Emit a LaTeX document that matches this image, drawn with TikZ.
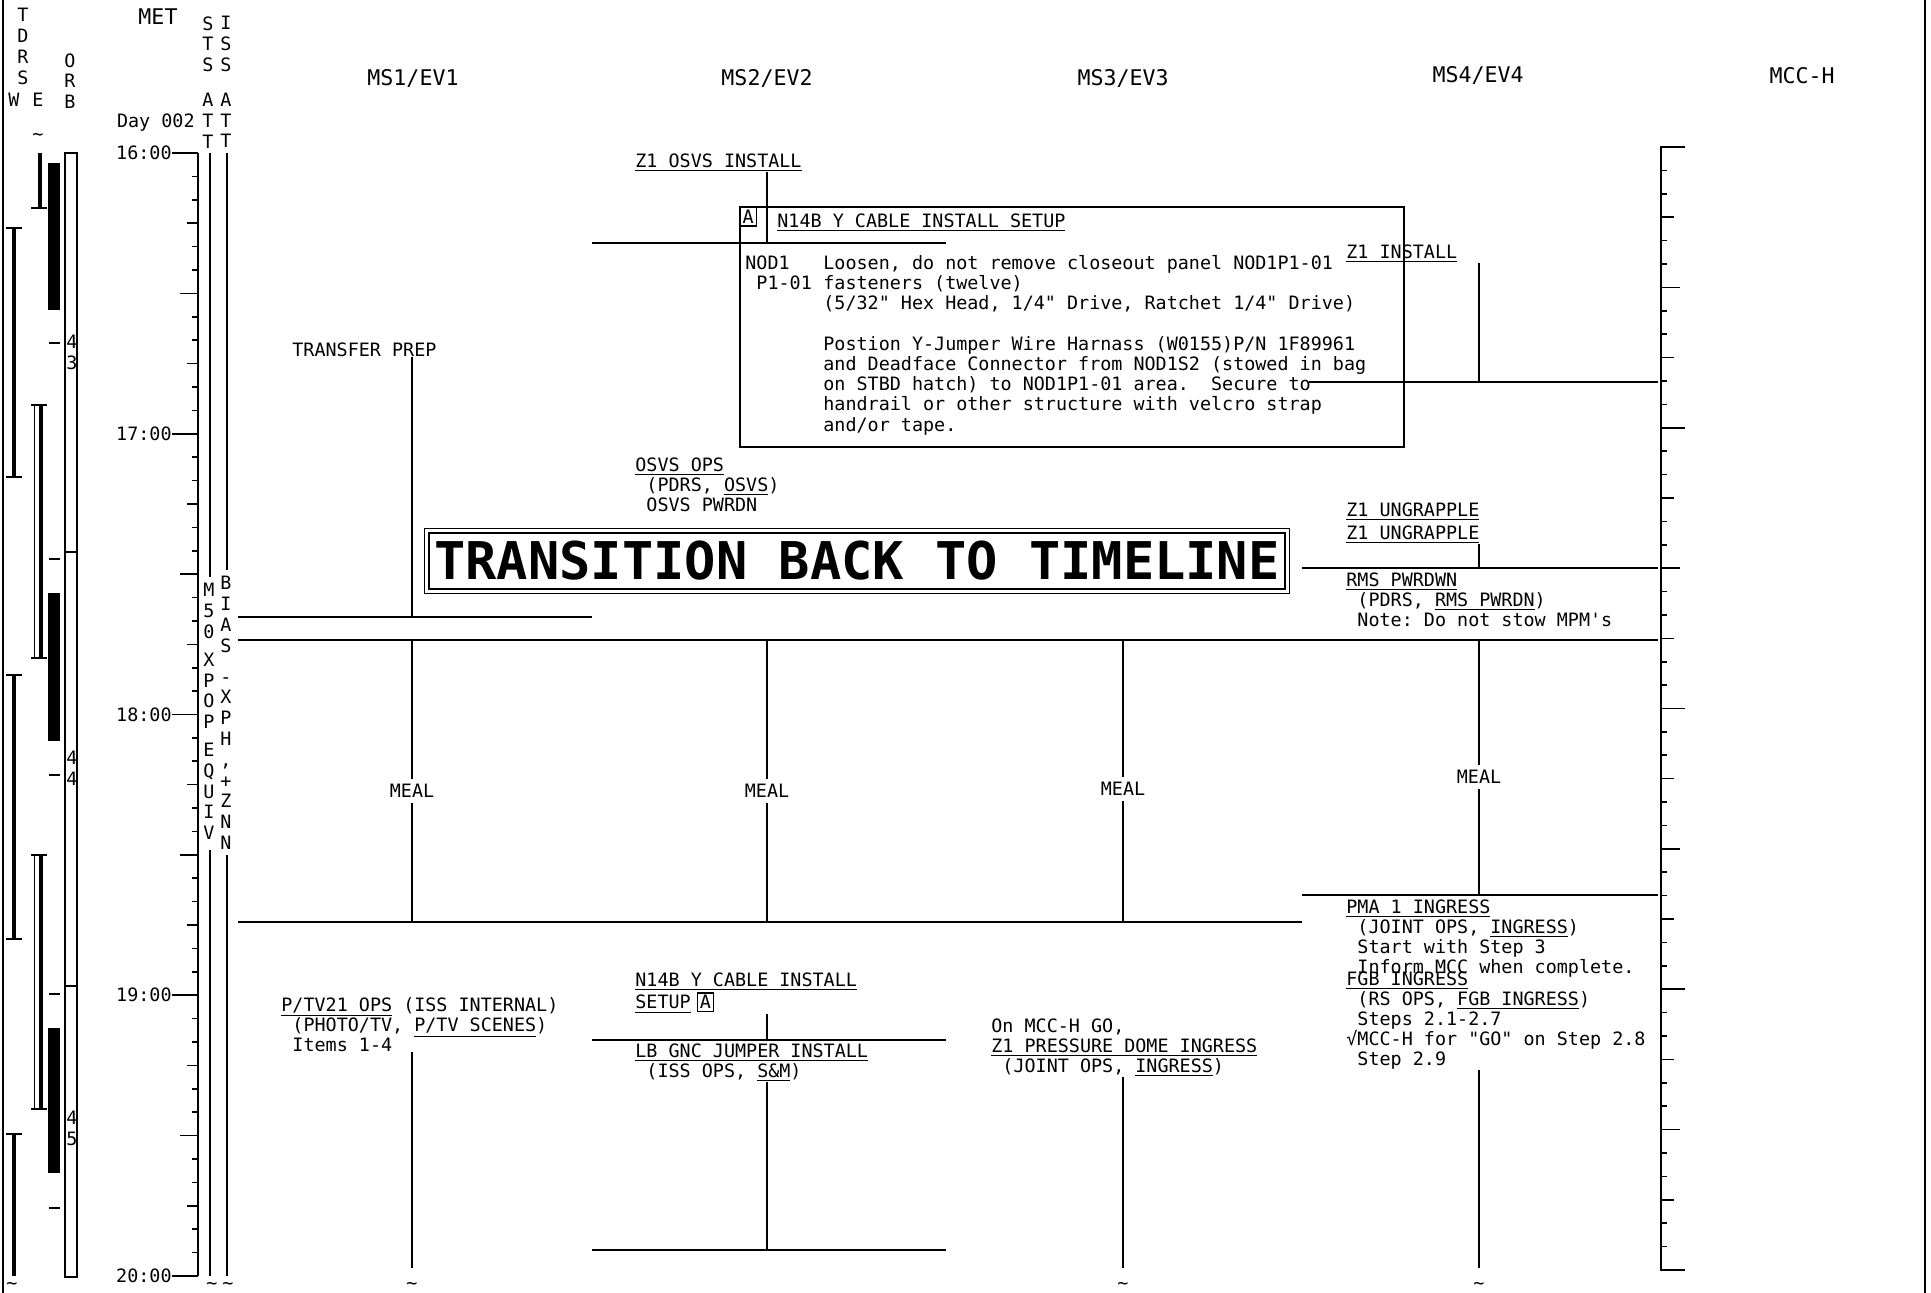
\documentclass[tikz,border=0pt]{standalone}
\usepackage{fontspec}
\setmonofont{DejaVu Sans Mono}
\usetikzlibrary{positioning}
\newcommand\tlfont{\ttfamily\fontsize{9.2}{10.1}\selectfont}
\newcommand\chind{\phantom{x}}
\setlength\fboxsep{1pt}
\setlength\fboxrule{0.6pt}

\tikzset{
  txt/.style={anchor=north west,inner sep=0pt,align=left,font=\tlfont},
  crew/.style={inner sep=0pt,font=\ttfamily\fontsize{10.8}{12}\selectfont},
  vlet/.style={anchor=north,inner sep=0pt,align=center,font=\ttfamily\fontsize{9.2}{10.4}\selectfont},
  meal/.style={inner sep=2.5pt,font=\tlfont},
  til/.style={inner sep=0pt,font=\tlfont},
  tline/.style={line width=1pt},
  tick/.style={line width=0.8pt},
  bar/.style={line width=2pt},
}

\begin{document}
\begin{tikzpicture}[x=0.5pt,y=-0.5pt]
\useasboundingbox (0,0) rectangle (1931,1293);

% page edges
\draw[line width=0.6pt] (3,0) -- (3,1293);
\draw[line width=0.6pt] (1925,0) -- (1925,1293);

% TDRS and ORB strip
\node[vlet] (tdrs) at (23,8) {T\\D\\R\\S};
\node[vlet] (tdrsw) at (14,93) {W};
\node[vlet] (tdrse) at (38,93) {E};
\node[vlet] (orb) at (70,53) {O\\R\\B};
\node[til] (etil) at (38,137) {\textasciitilde};
\foreach \a/\b in {228/477,675/939}{
  \draw[bar] (14,\a) -- (14,\b);
  \draw[tick] (6,\a) -- (22,\a) (6,\b) -- (22,\b);
}
\draw[bar] (14,1134) -- (14,1276);
\draw[tick] (6,1134) -- (22,1134);
\node[til] (wtil) at (12,1286) {\textasciitilde};
\draw[bar] (40,153) -- (40,208);
\draw[tick] (31,208) -- (47,208);
\foreach \a/\b in {405/658,855/1109}{
  \draw[bar] (41,\a) -- (41,\b);
  \draw[line width=0.5pt] (34,\a) -- (34,\b);
  \draw[tick] (31,\a) -- (47,\a) (31,\b) -- (47,\b);
}
\foreach \a/\b in {163/310,593/741,1028/1173}
  \fill (48,\a) rectangle (60,\b);
\foreach \y in {343,559,775,994,1208}
  \draw[tick] (49,\y) -- (60,\y);
\draw[tick] (65,153) rectangle (77,1277);
\draw[tick] (65,552) -- (77,552) (65,986) -- (77,986);
\node[vlet] (rev43) at (72,335) {4\\3};
\node[vlet] (rev44) at (72,751) {4\\4};
\node[vlet] (rev45) at (72,1111) {4\\5};

% MET axis
\node[crew] (met) at (158,17) {MET};
\node[font=\tlfont,inner sep=0pt,anchor=east] (day) at (195,123) {Day 002};
\draw[tick] (198,153) -- (198,1276);
\foreach \i in {0,...,48} \draw[tick] (198,{153+\i*23.396}) -- ++(-6,0);
\foreach \i in {0,3,...,48} \draw[tick] (198,{153+\i*23.396}) -- ++(-11,0);
\foreach \i in {0,6,...,48} \draw[tick] (198,{153+\i*23.396}) -- ++(-18,0);
\foreach \h [count=\k from 0] in {16,...,20}{
  \node[font=\tlfont,inner sep=0pt,anchor=east] (met\h) at (172,{153+\k*280.75}) {\h:00};
  \draw[tick] (met\h.east) -- (198,{153+\k*280.75});
}

% attitude columns
\node[vlet] (stshd) at (208,16) {S\\T\\S\\[7pt]A\\T\\T};
\node[vlet] (isshd) at (226,16) {I\\S\\S\\[7pt]A\\T\\T};
\draw[tick] (210,153) -- (210,577) (210,850) -- (210,1276);
\draw[tick] (227,153) -- (227,570) (227,855) -- (227,1276);
\node[vlet] (stsatt) at (209,583) {M\\5\\0\\[3.5pt]X\\P\\O\\P\\[3.5pt]E\\Q\\U\\I\\V};
\node[vlet] (issatt) at (226,576) {B\\I\\A\\S\\[5pt]-\\X\\P\\H\\,\\+\\Z\\N\\N};
\node[til] (ststil) at (212,1286) {\textasciitilde};
\node[til] (isstil) at (228,1286) {\textasciitilde};

% crew headers
\node[crew] (ms1) at (413,78) {MS1/EV1};
\node[crew] (ms2) at (767,78) {MS2/EV2};
\node[crew] (ms3) at (1123,78) {MS3/EV3};
\node[crew] (ms4) at (1478,75) {MS4/EV4};
\node[crew] (mcch) at (1802,76) {MCC-H};

% MCC-H axis
\draw[tick] (1685,147) -- (1661,147) -- (1661,1270) -- (1685,1270);
\foreach \i in {1,...,47} \draw[tick] (1661,{147+\i*23.396}) -- ++(6,0);
\foreach \i in {3,6,...,45} \draw[tick] (1661,{147+\i*23.396}) -- ++(13,0);
\foreach \i in {6,12,...,42} \draw[tick] (1661,{147+\i*23.396}) -- ++(19,0);
\foreach \i in {12,24,36} \draw[tick] (1661,{147+\i*23.396}) -- ++(24,0);

\coordinate (c1) at (412,0);
\coordinate (c2) at (767,0);
\coordinate (c3) at (1123,0);
\coordinate (c4) at (1479,0);

% activity boundaries
\draw[tline] (238,617) -- (592,617);
\draw[tline] (238,640) -- (1658,640);
\draw[tline] (238,922) -- (1302,922);
\draw[tline] (592,243) -- (946,243);
\draw[tline] (592,1040) -- (946,1040);
\draw[tline] (592,1250) -- (946,1250);
\draw[tline] (1309,382) -- (1658,382);
\draw[tline] (1302,568) -- (1658,568);
\draw[tline] (1302,895) -- (1658,895);

% MS1
\node[txt] (tprep) at (292,342) {TRANSFER PREP};
\draw[tline] (tprep.south -| c1) -- (412,617);
\node[meal] (meal1) at (412,791) {MEAL};
\draw[tline] (412,640) -- (meal1) -- (412,922);
\node[txt] (ptv) at (281,997) {\underline{P/TV21 OPS} (ISS INTERNAL)\\\chind(PHOTO/TV, \underline{P/TV SCENES})\\\chind Items 1-4};
\draw[tline] (ptv.south -| c1) -- (412,1268);
\node[til] (til1) at (412,1286) {\textasciitilde};

% MS2
\node[txt] (z1osvs) at (635,153) {\underline{Z1 OSVS INSTALL}};
\node[draw,line width=0.8pt,anchor=north west,minimum width=332pt,minimum height=120pt,inner sep=0pt] (setup) at (739,206) {};
\node[draw,line width=0.6pt,inner sep=1.5pt,font=\tlfont,anchor=north west] (setupA) at (setup.north west) {A};
\draw[tline] (z1osvs.south -| c2) -- (767,243);
\node[txt] (setuptitle) at (777,213) {\underline{N14B Y CABLE INSTALL SETUP}};
\node[txt] (setuploc) at (745,255) {NOD1\\\chind P1-01};
\node[txt] (setupbody) at (823,255) {Loosen, do not remove closeout panel NOD1P1-01\\fasteners (twelve)\\(5/32" Hex Head, 1/4" Drive, Ratchet 1/4" Drive)\\[10.1pt]Postion Y-Jumper Wire Harnass (W0155)P/N 1F89961\\and Deadface Connector from NOD1S2 (stowed in bag\\on STBD hatch) to NOD1P1-01 area.\ \ Secure to\\handrail or other structure with velcro strap\\and/or tape.};
\node[txt] (osvsops) at (635,457) {\underline{OSVS OPS}\\\chind(PDRS, \underline{OSVS})\\\chind OSVS PWRDN};
\node[meal] (meal2) at (767,791) {MEAL};
\draw[tline] (767,640) -- (meal2) -- (767,922);
\node[txt] (cblsetup) at (635,972) {\underline{N14B Y CABLE INSTALL}\\\underline{SETUP}\kern3pt\fbox{A}};
\draw[tline] (cblsetup.south -| c2) -- (767,1040);
\node[txt] (lbgnc) at (635,1043) {\underline{LB GNC JUMPER INSTALL}\\\chind(ISS OPS, \underline{S\&M})};
\draw[tline] (lbgnc.south -| c2) -- (767,1250);

% transition banner
\node[draw,line width=1.4pt,minimum width=428pt,minimum height=28pt,inner sep=0pt,font=\ttfamily\bfseries\fontsize{26}{28}\selectfont] (trans) at (857,561) {TRANSITION BACK TO TIMELINE};
\draw[line width=0.6pt] ([shift={(-3,-3)}]trans.north west) rectangle ([shift={(3,3)}]trans.south east);

% MS3
\node[meal] (meal3) at (1123,789) {MEAL};
\draw[tline] (1123,640) -- (meal3) -- (1123,922);
\node[txt] (domeingr) at (991,1018) {On MCC-H GO,\\\underline{Z1 PRESSURE DOME INGRESS}\\\chind(JOINT OPS, \underline{INGRESS})};
\draw[tline] (domeingr.south -| c3) -- (1123,1268);
\node[til] (til3) at (1123,1286) {\textasciitilde};

% MS4
\node[txt] (z1inst) at (1346,244) {\underline{Z1 INSTALL}};
\draw[tline] (z1inst.south -| c4) -- (1479,382);
\node[txt] (ungr1) at (1346,502) {\underline{Z1 UNGRAPPLE}};
\node[txt,below=2.5pt of ungr1.south west,anchor=north west] (ungr2) {\underline{Z1 UNGRAPPLE}};
\draw[tline] (ungr2.south -| c4) -- (1479,568);
\node[txt] (rmspwr) at (1346,572) {\underline{RMS PWRDWN}\\\chind(PDRS, \underline{RMS PWRDN})\\\chind Note: Do not stow MPM's};
\node[meal] (meal4) at (1479,777) {MEAL};
\draw[tline] (1479,640) -- (meal4) -- (1479,895);
\node[txt] (pmaingr) at (1346,899) {\underline{PMA 1 INGRESS}\\\chind(JOINT OPS, \underline{INGRESS})\\\chind Start with Step 3\\\chind Inform MCC when complete.};
\node[txt] (fgbingr) at (1346,971) {\underline{FGB INGRESS}\\\chind(RS OPS, \underline{FGB INGRESS})\\\chind Steps 2.1-2.7\\√MCC-H for "GO" on Step 2.8\\\chind Step 2.9};
\draw[tline] (fgbingr.south -| c4) -- (1479,1268);
\node[til] (til4) at (1479,1286) {\textasciitilde};
\end{tikzpicture}
\end{document}
